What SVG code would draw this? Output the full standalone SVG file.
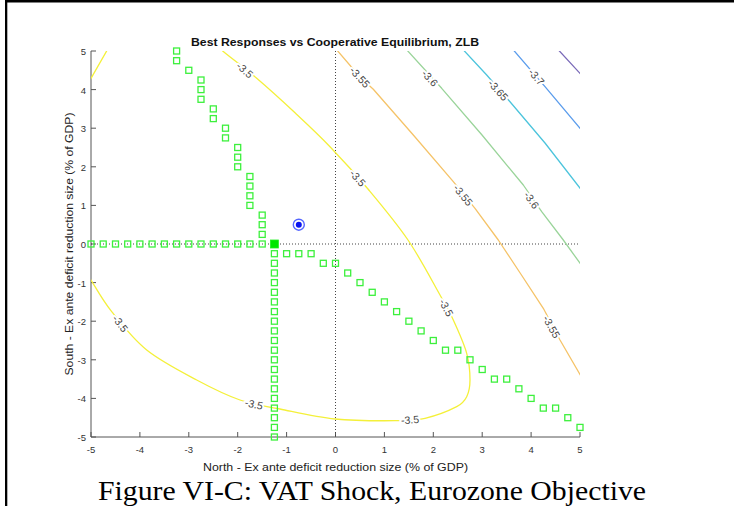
<svg xmlns="http://www.w3.org/2000/svg" xmlns:xlink="http://www.w3.org/1999/xlink" width="734" height="506" viewBox="0 0 734 506">
<style>
.ax{stroke:#555;stroke-width:1;fill:none}
.dot{stroke:#444;stroke-width:1;stroke-dasharray:1 2;fill:none}
.sq{fill:none;stroke:#3cf03c;stroke-width:1.3}
.tk{font-family:"Liberation Sans",Arial,sans-serif;font-size:9.5px;fill:#333}
.lab{font-family:"Liberation Sans",Arial,sans-serif;font-size:11px;fill:#222}
.cl{font-family:"Liberation Sans",Arial,sans-serif;font-size:10.5px;fill:#444;text-anchor:middle;dominant-baseline:central;stroke:#fff;stroke-width:4;paint-order:stroke;stroke-linejoin:round}
.c{fill:none;stroke-width:1.3;stroke-linejoin:round;stroke-linecap:round}
</style>
<defs>
<clipPath id="plot"><rect x="91" y="51" width="489" height="386"/></clipPath>
<rect id="sq" x="-3" y="-3" width="6" height="6" class="sq"/>
</defs>
<rect width="734" height="506" fill="#fff"/>
<rect x="5" y="0" width="729" height="2.5" fill="#000"/>
<rect x="5" y="0" width="2.3" height="506" fill="#000"/>

<g id="title"><text x="335" y="46" text-anchor="middle" font-family="Liberation Sans,Arial,sans-serif" font-size="11.5" font-weight="bold" fill="#111" textLength="288" lengthAdjust="spacingAndGlyphs">Best Responses vs Cooperative Equilibrium, ZLB</text></g>

<g id="axes">
<path class="ax" d="M91,51V437H580"/>
<path class="ax" d="M91,51h5M91,89.6h5M91,128.2h5M91,166.8h5M91,205.4h5M91,244h5M91,282.6h5M91,321.2h5M91,359.8h5M91,398.4h5M91,437h5"/>
<path class="ax" d="M91,437v-5M139.9,437v-5M188.8,437v-5M237.7,437v-5M286.6,437v-5M335.5,437v-5M384.4,437v-5M433.3,437v-5M482.2,437v-5M531.1,437v-5M580,437v-5"/>
<g class="tk" text-anchor="end">
<text x="86" y="55">5</text><text x="86" y="93.6">4</text><text x="86" y="132.2">3</text><text x="86" y="170.8">2</text><text x="86" y="209.4">1</text><text x="86" y="248">0</text><text x="86" y="286.6">-1</text><text x="86" y="325.2">-2</text><text x="86" y="363.8">-3</text><text x="86" y="402.4">-4</text><text x="86" y="441">-5</text>
</g>
<g class="tk" text-anchor="middle">
<text x="91" y="453">-5</text><text x="139.9" y="453">-4</text><text x="188.8" y="453">-3</text><text x="237.7" y="453">-2</text><text x="286.6" y="453">-1</text><text x="335.5" y="453">0</text><text x="384.4" y="453">1</text><text x="433.3" y="453">2</text><text x="482.2" y="453">3</text><text x="531.1" y="453">4</text><text x="580" y="453">5</text>
</g>
<text class="lab" x="335.5" y="470.5" text-anchor="middle" textLength="265" lengthAdjust="spacingAndGlyphs">North - Ex ante deficit reduction size (% of GDP)</text>
<text class="lab" transform="translate(73,244) rotate(-90)" x="0" y="0" text-anchor="middle" textLength="263" lengthAdjust="spacingAndGlyphs">South - Ex ante deficit reduction size (% of GDP)</text>
</g>

<g id="reference-lines">
<line class="dot" x1="91" y1="244" x2="580" y2="244"/>
<line class="dot" x1="335.5" y1="51" x2="335.5" y2="437"/>
</g>

<g id="contours" clip-path="url(#plot)">
<path class="c" stroke="#f4f03a" d="M87.9,83.8L109.8,45.5"/>
<path class="c" stroke="#f4f03a" d="M206,36L222.7,51C231.15,58.05 244.65,68 256.7,78.3C268.75,88.6 282.78,101.4 295,112.8C307.22,124.2 317.83,134 330,146.7C342.17,159.4 355,173.45 368,189C381,204.55 396,222.33 408,240C420,257.67 432.45,281.67 440,295C447.55,308.33 448.85,310.28 453.3,320C457.75,329.72 463.92,343.3 466.7,353.3C469.1,362 470,371 470,380C470,385.7 469.2,391.6 466.7,396.7C464.6,400.9 460.9,404.5 456.7,406.7C446.9,411.8 435.7,415.9 425,418.3C415.25,420.5 405,420.6 395,420.7C375,420.86 354.9,421 335,419C315.83,417.05 295.83,412.17 280,409C264.17,405.83 253.88,404.83 240,400C226.12,395.17 212.25,388.33 196.7,380C181.15,371.67 160.87,361.38 146.7,350C132.53,338.62 120.98,323.37 111.7,311.7C102.42,300.03 96.62,289.12 91,280L78,257"/>
<polyline class="c" stroke="#f5c368" points="336,49 360,77 373.3,89.3 413.3,135 453.3,181.7 475,208.3 498.3,240 520.8,274 543.3,308.3 560,340 582,378"/>
<polyline class="c" stroke="#9ad49a" points="406,49 441.7,88.3 482,135 523.3,185 541.7,211.7 563.3,240 582,266"/>
<polyline class="c" stroke="#4cc4dc" points="463,49.5 486.7,75 510,101.7 545,143 582,190.7"/>
<polyline class="c" stroke="#5a9cec" points="513,49.5 545,86.7 582,130.7"/>
<polyline class="c" stroke="#7a6ab8" points="558,49.5 582,75.5"/>
</g>

<g id="contour-labels">
<text class="cl" transform="translate(245,70) rotate(42)">-3.5</text>
<text class="cl" transform="translate(358,178) rotate(49)">-3.5</text>
<text class="cl" transform="translate(446.5,307.5) rotate(62)">-3.5</text>
<text class="cl" transform="translate(410,419.5) rotate(-4)">-3.5</text>
<text class="cl" transform="translate(254,404) rotate(13)">-3.5</text>
<text class="cl" transform="translate(120.5,323.5) rotate(52)">-3.5</text>
<text class="cl" transform="translate(360,77) rotate(48)">-3.55</text>
<text class="cl" transform="translate(463.3,195) rotate(51)">-3.55</text>
<text class="cl" transform="translate(551.7,326.7) rotate(61)">-3.55</text>
<text class="cl" transform="translate(430,78) rotate(48)">-3.6</text>
<text class="cl" transform="translate(531.7,200) rotate(54)">-3.6</text>
<text class="cl" transform="translate(498.3,90) rotate(48)">-3.65</text>
<text class="cl" transform="translate(536.7,76.7) rotate(49)">-3.7</text>
</g>

<g id="best-response-row">
<use href="#sq" x="91" y="244"/><use href="#sq" x="103.2" y="244"/><use href="#sq" x="115.5" y="244"/><use href="#sq" x="127.7" y="244"/><use href="#sq" x="139.9" y="244"/><use href="#sq" x="152.1" y="244"/><use href="#sq" x="164.4" y="244"/><use href="#sq" x="176.6" y="244"/><use href="#sq" x="188.8" y="244"/><use href="#sq" x="201" y="244"/><use href="#sq" x="213.3" y="244"/><use href="#sq" x="225.5" y="244"/><use href="#sq" x="237.7" y="244"/><use href="#sq" x="249.9" y="244"/><use href="#sq" x="262.2" y="244"/>
</g>
<g id="best-response-column">
<use href="#sq" x="274.4" y="253.7"/><use href="#sq" x="274.4" y="263.3"/><use href="#sq" x="274.4" y="273"/><use href="#sq" x="274.4" y="282.6"/><use href="#sq" x="274.4" y="292.3"/><use href="#sq" x="274.4" y="301.9"/><use href="#sq" x="274.4" y="311.6"/><use href="#sq" x="274.4" y="321.2"/><use href="#sq" x="274.4" y="330.9"/><use href="#sq" x="274.4" y="340.5"/><use href="#sq" x="274.4" y="350.2"/><use href="#sq" x="274.4" y="359.8"/><use href="#sq" x="274.4" y="369.5"/><use href="#sq" x="274.4" y="379.1"/><use href="#sq" x="274.4" y="388.8"/><use href="#sq" x="274.4" y="398.4"/><use href="#sq" x="274.4" y="408.1"/><use href="#sq" x="274.4" y="417.7"/><use href="#sq" x="274.4" y="427.4"/><use href="#sq" x="274.4" y="437"/>
</g>
<g id="best-response-upper">
<use href="#sq" x="176.6" y="51"/><use href="#sq" x="176.6" y="60.7"/><use href="#sq" x="188.8" y="70.3"/><use href="#sq" x="201" y="80"/><use href="#sq" x="201" y="89.6"/><use href="#sq" x="201" y="99.3"/><use href="#sq" x="213.3" y="108.9"/><use href="#sq" x="213.3" y="118.6"/><use href="#sq" x="225.5" y="128.2"/><use href="#sq" x="225.5" y="137.9"/><use href="#sq" x="237.7" y="147.5"/><use href="#sq" x="237.7" y="157.2"/><use href="#sq" x="237.7" y="166.8"/><use href="#sq" x="249.9" y="176.5"/><use href="#sq" x="249.9" y="186.1"/><use href="#sq" x="249.9" y="195.8"/><use href="#sq" x="249.9" y="205.4"/><use href="#sq" x="262.2" y="215.1"/><use href="#sq" x="262.2" y="224.7"/><use href="#sq" x="262.2" y="234.4"/>
</g>
<g id="best-response-lower">
<use href="#sq" x="286.6" y="253.7"/><use href="#sq" x="298.8" y="253.7"/><use href="#sq" x="311.1" y="253.7"/><use href="#sq" x="323.3" y="263.3"/><use href="#sq" x="335.5" y="263.3"/><use href="#sq" x="347.7" y="273"/><use href="#sq" x="360" y="282.6"/><use href="#sq" x="372.2" y="292.3"/><use href="#sq" x="384.4" y="301.9"/><use href="#sq" x="396.6" y="311.6"/><use href="#sq" x="408.9" y="321.2"/><use href="#sq" x="421.1" y="330.9"/><use href="#sq" x="433.3" y="340.5"/><use href="#sq" x="445.5" y="350.2"/><use href="#sq" x="457.8" y="350.2"/><use href="#sq" x="470" y="359.8"/><use href="#sq" x="482.2" y="369.5"/><use href="#sq" x="494.4" y="379.1"/><use href="#sq" x="506.7" y="379.1"/><use href="#sq" x="518.9" y="388.8"/><use href="#sq" x="531.1" y="398.4"/><use href="#sq" x="543.3" y="408.1"/><use href="#sq" x="555.6" y="408.1"/><use href="#sq" x="567.8" y="417.7"/><use href="#sq" x="580" y="427.4"/>
</g>
<g id="nash-equilibrium"><rect x="270.4" y="240" width="8" height="8" fill="#00e600" stroke="#22f022" stroke-width="0.8"/></g>
<g id="cooperative-equilibrium">
<circle cx="298.8" cy="224.7" r="5.5" fill="#fff" stroke="#5566ff" stroke-width="1.4"/>
<circle cx="298.8" cy="224.7" r="3" fill="#0a14f0"/>
</g>

<g id="caption"><text x="372" y="500" text-anchor="middle" font-family="Liberation Serif,Times New Roman,serif" font-size="27" fill="#000" textLength="548" lengthAdjust="spacingAndGlyphs">Figure VI-C: VAT Shock, Eurozone Objective</text></g>
</svg>
